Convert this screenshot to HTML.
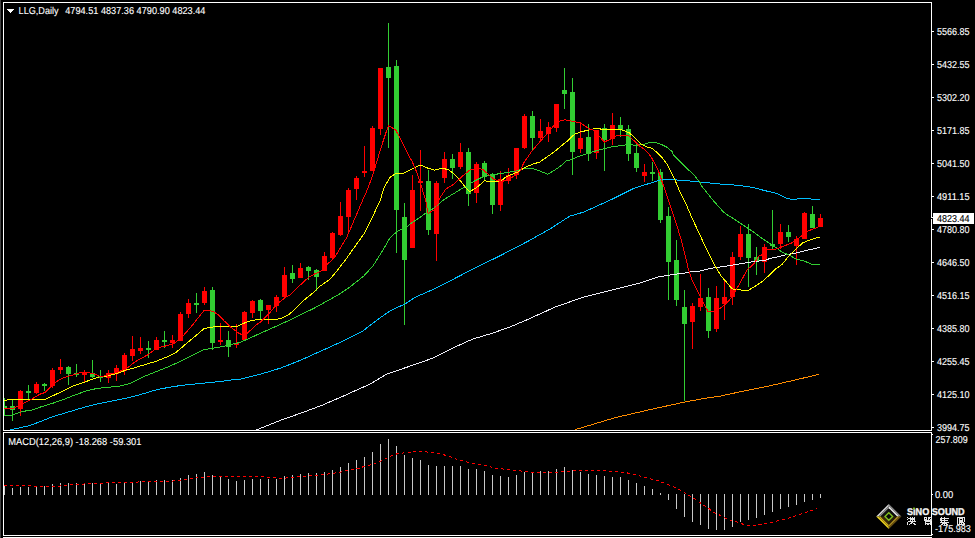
<!DOCTYPE html><html><head><meta charset="utf-8"><style>
html,body{margin:0;padding:0;background:#000;}
body{width:975px;height:538px;overflow:hidden;}
svg{display:block;}
text{font-family:"Liberation Sans",sans-serif;text-rendering:geometricPrecision;}
</style></head><body>
<svg width="975" height="538" viewBox="0 0 975 538">
<defs><clipPath id="cm"><rect x="4" y="3" width="927" height="427"/></clipPath><clipPath id="cd"><rect x="4" y="433" width="927" height="102"/></clipPath></defs>
<rect x="0" y="0" width="975" height="538" fill="#000"/>
<rect x="0" y="0" width="1" height="538" fill="#404040"/>
<g clip-path="url(#cm)">
<g shape-rendering="crispEdges"><rect x="4" y="398" width="1" height="18" fill="#32cd32"/><rect x="2" y="406" width="5" height="2" fill="#32cd32"/><rect x="12" y="400" width="1" height="21" fill="#32cd32"/><rect x="10" y="406" width="5" height="4" fill="#32cd32"/><rect x="20" y="390" width="1" height="26" fill="#ff0000"/><rect x="18" y="391" width="5" height="18" fill="#ff0000"/><rect x="28" y="385" width="1" height="15" fill="#32cd32"/><rect x="26" y="391" width="5" height="2" fill="#32cd32"/><rect x="36" y="382" width="1" height="12" fill="#ff0000"/><rect x="34" y="384" width="5" height="9" fill="#ff0000"/><rect x="44" y="383" width="1" height="8" fill="#32cd32"/><rect x="42" y="384" width="5" height="2" fill="#32cd32"/><rect x="52" y="368" width="1" height="20" fill="#ff0000"/><rect x="50" y="370" width="5" height="16" fill="#ff0000"/><rect x="60" y="359" width="1" height="15" fill="#ff0000"/><rect x="58" y="367" width="5" height="3" fill="#ff0000"/><rect x="68" y="366" width="1" height="19" fill="#32cd32"/><rect x="66" y="367" width="5" height="7" fill="#32cd32"/><rect x="76" y="364" width="1" height="13" fill="#32cd32"/><rect x="74" y="373" width="5" height="2" fill="#32cd32"/><rect x="84" y="370" width="1" height="12" fill="#ff0000"/><rect x="82" y="373" width="5" height="2" fill="#ff0000"/><rect x="92" y="360" width="1" height="18" fill="#32cd32"/><rect x="90" y="373" width="5" height="4" fill="#32cd32"/><rect x="100" y="370" width="1" height="12" fill="#32cd32"/><rect x="98" y="376" width="5" height="2" fill="#32cd32"/><rect x="108" y="370" width="1" height="13" fill="#ff0000"/><rect x="106" y="373" width="5" height="5" fill="#ff0000"/><rect x="116" y="365" width="1" height="16" fill="#ff0000"/><rect x="114" y="368" width="5" height="6" fill="#ff0000"/><rect x="124" y="353" width="1" height="22" fill="#ff0000"/><rect x="122" y="355" width="5" height="16" fill="#ff0000"/><rect x="132" y="336" width="1" height="25" fill="#ff0000"/><rect x="130" y="349" width="5" height="7" fill="#ff0000"/><rect x="140" y="337" width="1" height="17" fill="#ff0000"/><rect x="138" y="348" width="5" height="3" fill="#ff0000"/><rect x="148" y="341" width="1" height="17" fill="#32cd32"/><rect x="146" y="348" width="5" height="2" fill="#32cd32"/><rect x="156" y="337" width="1" height="13" fill="#ff0000"/><rect x="154" y="340" width="5" height="10" fill="#ff0000"/><rect x="164" y="331" width="1" height="17" fill="#32cd32"/><rect x="162" y="340" width="5" height="2" fill="#32cd32"/><rect x="172" y="335" width="1" height="13" fill="#ff0000"/><rect x="170" y="340" width="5" height="3" fill="#ff0000"/><rect x="180" y="312" width="1" height="29" fill="#ff0000"/><rect x="178" y="314" width="5" height="27" fill="#ff0000"/><rect x="188" y="299" width="1" height="19" fill="#ff0000"/><rect x="186" y="303" width="5" height="11" fill="#ff0000"/><rect x="196" y="293" width="1" height="20" fill="#32cd32"/><rect x="194" y="303" width="5" height="2" fill="#32cd32"/><rect x="204" y="287" width="1" height="18" fill="#ff0000"/><rect x="202" y="291" width="5" height="12" fill="#ff0000"/><rect x="212" y="287" width="1" height="63" fill="#32cd32"/><rect x="210" y="290" width="5" height="53" fill="#32cd32"/><rect x="220" y="323" width="1" height="22" fill="#ff0000"/><rect x="218" y="340" width="5" height="2" fill="#ff0000"/><rect x="228" y="331" width="1" height="26" fill="#32cd32"/><rect x="226" y="340" width="5" height="7" fill="#32cd32"/><rect x="236" y="324" width="1" height="24" fill="#ff0000"/><rect x="234" y="343" width="5" height="2" fill="#ff0000"/><rect x="244" y="311" width="1" height="29" fill="#ff0000"/><rect x="242" y="312" width="5" height="28" fill="#ff0000"/><rect x="252" y="300" width="1" height="18" fill="#ff0000"/><rect x="250" y="301" width="5" height="12" fill="#ff0000"/><rect x="260" y="299" width="1" height="21" fill="#32cd32"/><rect x="258" y="300" width="5" height="11" fill="#32cd32"/><rect x="268" y="305" width="1" height="19" fill="#ff0000"/><rect x="266" y="305" width="5" height="5" fill="#ff0000"/><rect x="276" y="295" width="1" height="17" fill="#ff0000"/><rect x="274" y="297" width="5" height="9" fill="#ff0000"/><rect x="284" y="267" width="1" height="30" fill="#ff0000"/><rect x="282" y="275" width="5" height="22" fill="#ff0000"/><rect x="292" y="265" width="1" height="18" fill="#32cd32"/><rect x="290" y="273" width="5" height="6" fill="#32cd32"/><rect x="300" y="263" width="1" height="15" fill="#ff0000"/><rect x="298" y="268" width="5" height="10" fill="#ff0000"/><rect x="308" y="266" width="1" height="14" fill="#32cd32"/><rect x="306" y="267" width="5" height="4" fill="#32cd32"/><rect x="316" y="269" width="1" height="22" fill="#32cd32"/><rect x="314" y="270" width="5" height="7" fill="#32cd32"/><rect x="324" y="252" width="1" height="19" fill="#ff0000"/><rect x="322" y="256" width="5" height="15" fill="#ff0000"/><rect x="332" y="232" width="1" height="28" fill="#ff0000"/><rect x="330" y="233" width="5" height="25" fill="#ff0000"/><rect x="340" y="202" width="1" height="34" fill="#ff0000"/><rect x="338" y="216" width="5" height="19" fill="#ff0000"/><rect x="348" y="188" width="1" height="44" fill="#ff0000"/><rect x="346" y="190" width="5" height="27" fill="#ff0000"/><rect x="356" y="176" width="1" height="24" fill="#ff0000"/><rect x="354" y="178" width="5" height="11" fill="#ff0000"/><rect x="364" y="146" width="1" height="31" fill="#ff0000"/><rect x="362" y="171" width="5" height="2" fill="#ff0000"/><rect x="372" y="126" width="1" height="45" fill="#ff0000"/><rect x="370" y="128" width="5" height="43" fill="#ff0000"/><rect x="380" y="68" width="1" height="67" fill="#ff0000"/><rect x="378" y="68" width="5" height="61" fill="#ff0000"/><rect x="388" y="23" width="1" height="125" fill="#32cd32"/><rect x="386" y="67" width="5" height="11" fill="#32cd32"/><rect x="396" y="60" width="1" height="193" fill="#32cd32"/><rect x="394" y="66" width="5" height="144" fill="#32cd32"/><rect x="404" y="203" width="1" height="122" fill="#32cd32"/><rect x="402" y="217" width="5" height="43" fill="#32cd32"/><rect x="412" y="175" width="1" height="73" fill="#ff0000"/><rect x="410" y="190" width="5" height="58" fill="#ff0000"/><rect x="420" y="150" width="1" height="61" fill="#ff0000"/><rect x="418" y="181" width="5" height="2" fill="#ff0000"/><rect x="428" y="170" width="1" height="65" fill="#32cd32"/><rect x="426" y="181" width="5" height="49" fill="#32cd32"/><rect x="436" y="181" width="1" height="80" fill="#ff0000"/><rect x="434" y="183" width="5" height="51" fill="#ff0000"/><rect x="444" y="152" width="1" height="31" fill="#ff0000"/><rect x="442" y="159" width="5" height="19" fill="#ff0000"/><rect x="452" y="154" width="1" height="25" fill="#32cd32"/><rect x="450" y="159" width="5" height="9" fill="#32cd32"/><rect x="460" y="143" width="1" height="26" fill="#ff0000"/><rect x="458" y="152" width="5" height="15" fill="#ff0000"/><rect x="468" y="148" width="1" height="58" fill="#32cd32"/><rect x="466" y="152" width="5" height="42" fill="#32cd32"/><rect x="476" y="162" width="1" height="41" fill="#ff0000"/><rect x="474" y="164" width="5" height="29" fill="#ff0000"/><rect x="484" y="161" width="1" height="20" fill="#32cd32"/><rect x="482" y="163" width="5" height="14" fill="#32cd32"/><rect x="492" y="173" width="1" height="41" fill="#32cd32"/><rect x="490" y="174" width="5" height="31" fill="#32cd32"/><rect x="500" y="171" width="1" height="40" fill="#ff0000"/><rect x="498" y="179" width="5" height="26" fill="#ff0000"/><rect x="508" y="168" width="1" height="16" fill="#ff0000"/><rect x="506" y="175" width="5" height="6" fill="#ff0000"/><rect x="516" y="148" width="1" height="31" fill="#ff0000"/><rect x="514" y="148" width="5" height="27" fill="#ff0000"/><rect x="524" y="114" width="1" height="35" fill="#ff0000"/><rect x="522" y="116" width="5" height="32" fill="#ff0000"/><rect x="532" y="111" width="1" height="40" fill="#32cd32"/><rect x="530" y="116" width="5" height="22" fill="#32cd32"/><rect x="540" y="119" width="1" height="23" fill="#ff0000"/><rect x="538" y="131" width="5" height="7" fill="#ff0000"/><rect x="548" y="122" width="1" height="20" fill="#ff0000"/><rect x="546" y="127" width="5" height="7" fill="#ff0000"/><rect x="556" y="104" width="1" height="28" fill="#ff0000"/><rect x="554" y="104" width="5" height="24" fill="#ff0000"/><rect x="564" y="68" width="1" height="41" fill="#32cd32"/><rect x="562" y="90" width="5" height="4" fill="#32cd32"/><rect x="572" y="78" width="1" height="97" fill="#32cd32"/><rect x="570" y="92" width="5" height="60" fill="#32cd32"/><rect x="580" y="122" width="1" height="31" fill="#ff0000"/><rect x="578" y="138" width="5" height="11" fill="#ff0000"/><rect x="588" y="124" width="1" height="37" fill="#32cd32"/><rect x="586" y="137" width="5" height="17" fill="#32cd32"/><rect x="596" y="130" width="1" height="29" fill="#ff0000"/><rect x="594" y="130" width="5" height="23" fill="#ff0000"/><rect x="604" y="124" width="1" height="47" fill="#32cd32"/><rect x="602" y="128" width="5" height="12" fill="#32cd32"/><rect x="612" y="113" width="1" height="32" fill="#ff0000"/><rect x="610" y="125" width="5" height="14" fill="#ff0000"/><rect x="620" y="117" width="1" height="20" fill="#32cd32"/><rect x="618" y="125" width="5" height="5" fill="#32cd32"/><rect x="628" y="125" width="1" height="36" fill="#32cd32"/><rect x="626" y="129" width="5" height="25" fill="#32cd32"/><rect x="636" y="142" width="1" height="30" fill="#32cd32"/><rect x="634" y="153" width="5" height="15" fill="#32cd32"/><rect x="644" y="164" width="1" height="18" fill="#ff0000"/><rect x="642" y="172" width="5" height="4" fill="#ff0000"/><rect x="652" y="162" width="1" height="19" fill="#32cd32"/><rect x="650" y="172" width="5" height="2" fill="#32cd32"/><rect x="660" y="169" width="1" height="54" fill="#32cd32"/><rect x="658" y="172" width="5" height="48" fill="#32cd32"/><rect x="668" y="207" width="1" height="93" fill="#32cd32"/><rect x="666" y="216" width="5" height="46" fill="#32cd32"/><rect x="676" y="240" width="1" height="66" fill="#32cd32"/><rect x="674" y="260" width="5" height="40" fill="#32cd32"/><rect x="684" y="290" width="1" height="111" fill="#32cd32"/><rect x="682" y="307" width="5" height="17" fill="#32cd32"/><rect x="692" y="303" width="1" height="46" fill="#ff0000"/><rect x="690" y="306" width="5" height="16" fill="#ff0000"/><rect x="700" y="274" width="1" height="37" fill="#ff0000"/><rect x="698" y="298" width="5" height="9" fill="#ff0000"/><rect x="708" y="288" width="1" height="50" fill="#32cd32"/><rect x="706" y="297" width="5" height="34" fill="#32cd32"/><rect x="716" y="286" width="1" height="46" fill="#ff0000"/><rect x="714" y="298" width="5" height="31" fill="#ff0000"/><rect x="724" y="281" width="1" height="39" fill="#ff0000"/><rect x="722" y="297" width="5" height="7" fill="#ff0000"/><rect x="732" y="252" width="1" height="53" fill="#ff0000"/><rect x="730" y="257" width="5" height="40" fill="#ff0000"/><rect x="740" y="226" width="1" height="34" fill="#ff0000"/><rect x="738" y="234" width="5" height="23" fill="#ff0000"/><rect x="748" y="224" width="1" height="63" fill="#32cd32"/><rect x="746" y="234" width="5" height="24" fill="#32cd32"/><rect x="756" y="247" width="1" height="28" fill="#32cd32"/><rect x="754" y="257" width="5" height="4" fill="#32cd32"/><rect x="764" y="244" width="1" height="29" fill="#ff0000"/><rect x="762" y="247" width="5" height="15" fill="#ff0000"/><rect x="772" y="210" width="1" height="39" fill="#32cd32"/><rect x="770" y="244" width="5" height="2" fill="#32cd32"/><rect x="780" y="224" width="1" height="25" fill="#ff0000"/><rect x="778" y="232" width="5" height="12" fill="#ff0000"/><rect x="788" y="225" width="1" height="17" fill="#32cd32"/><rect x="786" y="232" width="5" height="5" fill="#32cd32"/><rect x="796" y="236" width="1" height="29" fill="#ff0000"/><rect x="794" y="239" width="5" height="7" fill="#ff0000"/><rect x="804" y="212" width="1" height="27" fill="#ff0000"/><rect x="802" y="213" width="5" height="26" fill="#ff0000"/><rect x="812" y="206" width="1" height="22" fill="#32cd32"/><rect x="810" y="214" width="5" height="14" fill="#32cd32"/><rect x="820" y="214" width="1" height="13" fill="#ff0000"/><rect x="818" y="218" width="5" height="9" fill="#ff0000"/></g>
<polyline points="574,431 576.6,429.2 587.7,425.9 615.4,417.6 643.1,411.2 671,405 686,401.8 705.3,398.3 720,396.2 740,391.8 767.7,386.3 795.4,379.9 818.9,374.4" fill="none" stroke="#ff8c00" stroke-width="1" shape-rendering="crispEdges"/>
<polyline points="255,431 256.4,430 280.9,420.1 301.3,413 321.7,405.4 342.2,396.6 362.6,387.4 370,384.2 386.3,374.4 410.9,365.8 431.3,358.7 451.7,348.5 472.2,339.3 492.6,333.1 510,327 527.9,319.4 555.7,306.8 583.6,297.1 611.5,290.1 639.4,283.1 660,276.2 666.9,275.9 672.9,274.3 681.8,273.6 691.5,271.7 699.6,271.1 705.5,269.5 715,267.6 724.4,266.4 733.9,264.8 743.4,263.2 756,261.3 765,260.3 770.6,258.2 776,257.3 785.5,254.8 795,253.2 804.4,250.8 813.9,248.8 819.9,247.2" fill="none" stroke="#eeeef8" stroke-width="1" shape-rendering="crispEdges"/>
<polyline points="8,431 9.7,430 30,425.5 41.1,421.3 52.3,416.8 63.4,413.5 74.6,410.1 85.7,406.8 96.9,404 108,401.8 119.2,399.5 130,397.4 143,393.8 156,389.9 169.1,387.3 182.1,385.3 195.1,384 208.1,382.7 221.1,381.4 234.2,379.5 240,379.3 260.4,374.2 280.9,368 301.3,359.9 321.7,350.7 342.2,341.5 362.6,331.2 370,325.4 380.2,317.8 390.4,310.7 404.7,304.1 415,297.4 431.3,290.2 451.7,280 478,266.5 500,255.8 527.9,241.3 550.2,228.8 569.7,216.2 583.6,212.1 611.5,199.5 633.8,188.4 660,180 667.9,179.6 681.9,180.2 695.8,181.6 709.8,183 723.7,184.4 737.7,185.2 751.6,187.2 765.6,190.8 776,193.2 782.3,196.3 787.8,198.7 793.4,199.5 799.7,198.7 809.2,198.7 813.9,199.5 819.9,199.5" fill="none" stroke="#00bfff" stroke-width="1" shape-rendering="crispEdges"/>
<polyline points="4,415 12,415 24.2,411.1 30,410.7 41.1,406.8 52.3,403.4 63.4,399.5 74.6,395.1 85.7,391.2 96.9,388.4 108,387.3 119.2,386.2 130,383.4 143,376.9 156,371.7 169.1,366.5 182.1,360.6 195.1,354.1 204.2,349.5 210.7,348.6 221.1,346.9 234.2,343.7 240,342.5 260.4,333.3 280.9,324.1 290,320 314.1,308.2 337.9,295 347.2,288.9 354.6,283.3 363.9,275.9 373.2,265.6 382.5,250.8 390,237.8 397.4,231.2 406.7,227.5 409.3,224.4 416,220.1 422.7,215.4 425.3,213.4 434.6,207.8 443.9,199.5 453.2,193.9 462.4,188.3 471.7,182.7 476,180.2 482.1,177.2 488.1,175.4 500.2,173.6 512.3,171.7 516,171 523.4,168.3 532.3,168.3 539.8,171 547.9,174.2 554.6,170.2 562,165 566.5,160.6 570,160 578.4,156.4 588.8,153.1 599.2,149.9 609.7,147.3 620.1,145.6 628,144.7 636.3,145.2 642.8,144.7 648,143 654.5,142.3 661,144.3 666.3,146.9 672,151.4 673.5,155.1 687.4,169 693.5,174.2 700,182.5 701.4,185.8 712.5,199.7 723.7,212.2 726,214 734.9,219.5 743.8,225.5 752.7,231.4 761.6,238.1 770.6,244.1 776.5,247.8 782.3,252.4 788.6,254.8 796.5,259.2 804.4,261.1 811.5,264.2 819.9,264.2" fill="none" stroke="#32cd32" stroke-width="1" shape-rendering="crispEdges"/>
<polyline points="4,401 8,399.5 44.7,399.5 56,394.3 63.9,390.5 73.1,385.9 84.3,382.2 91.7,379.4 100,376.6 107,376 118.3,373 127.2,369.6 130,369.1 143,365.2 156,361.3 169.1,356 175.6,352.8 184.7,345 192.5,338.5 201.6,330.7 204,328.5 211.7,327.1 215.9,326.7 237.6,326.3 242.6,323.8 248.5,321.3 257.7,319.5 276.9,319.2 283.2,317.7 290,313.7 304.2,300 313.4,292.6 318.5,287.2 323.5,283.8 330,279.2 336,272.1 345.3,260.1 354.6,247 363.9,234 373.2,215.4 380.4,200 383.7,188.6 389.6,177.7 396.3,173.2 403.8,173.2 412,168.9 416,167 420.6,165.1 427.1,167.9 434.6,170.1 442,168.2 448.5,169.7 453.2,173.4 460.6,180.9 466.2,188.3 469.9,191.6 476,188 484.5,180.8 489.3,181.6 500.2,181.6 506.3,176.6 512.3,174.2 518.4,171.7 525,167.5 532.3,164.3 539.8,162 547.2,156.8 554.6,151.6 560.6,146.4 568,140.5 574.5,134.3 581,131.7 587.5,130.4 594,128.7 599.2,128.7 604.4,130 611,129.5 620.1,129.5 624,130.4 629.8,133.2 636.3,139.1 641.5,144.3 648,147.3 651.9,148.2 657.2,152.7 662.4,157.9 667.6,165.1 672,174.2 675,180 680,192 685.9,203.7 691.7,217.3 697.6,230 703.5,242.7 709.3,254.4 715.2,266.1 721,275.9 726.9,282.7 731.8,288.6 736.7,289.8 748.3,290.4 756,285.7 762.7,281.2 769.4,275.1 776,268.7 782.3,264.2 788.6,256.3 796.5,248.5 802.8,242.9 809.2,240.2 815.5,238.2 819.9,237.1" fill="none" stroke="#ffff00" stroke-width="1" shape-rendering="crispEdges"/>
<polyline points="4,408.4 14,408 22,404 30,400 39.7,394.3 45.3,392.4 55.5,382.2 62,378.5 68.5,376.1 74,374.7 80.6,372.4 84.3,372 88,372.4 95.4,374.3 100.5,376.5 106,375.7 118.3,371.8 126,369 135,361.8 148.4,354.5 154,350 160,347.3 164.4,346.3 174,343.6 182.5,336.6 192.2,325.4 204,310.5 209,310.5 214.5,312.2 218.4,315 224.2,320.9 230,326.7 238.4,333 241.8,334.6 246.8,333.8 255,325.9 261,321.6 269,313.7 276.9,304.2 284.8,297.9 290.9,294.3 296.7,288.4 305.1,280.5 308.8,277.2 313.4,274.6 321.8,270.5 327.6,264 334.3,257.9 336,255.1 341.9,245.4 346.4,238 349.4,231.3 353.8,220.9 358.3,210.5 362.7,200 367.9,188.4 373.8,172 376.8,161.6 381.3,146.8 385.7,133.4 388.4,125.7 391.7,127.4 396,130.4 400.5,139.3 405.5,149.3 412.3,161.9 416.8,172.3 421.2,185.7 425.7,200.6 428.1,213.4 434.6,209.7 440.2,197.6 445.7,189.2 453.2,184.6 462.4,176.2 470,169.9 478.5,168.1 483.3,169.9 488.1,174.2 494.2,179.6 501.4,181.6 506.3,180.2 511.1,177.8 515.9,174.8 520.8,170.5 523.4,163.5 530.9,152.4 538.3,143.5 545.7,135.3 553.1,126.4 560.6,120.7 565,119.7 569.5,120.7 574.5,121.7 579.7,122.6 584.9,125.8 589.5,129.1 594,130.4 599.2,136.2 604.4,142.1 609.7,139.5 614.9,136.2 620.1,135.2 628.5,135.6 633.7,140.4 638.9,145.6 645.4,150.1 650.6,156 654.5,163.1 658.5,171 662.4,182.7 666.7,195.1 671.7,210.1 676.8,225.2 681.8,241.9 686,258.6 688.5,269.9 692.2,280.3 699.6,295.1 702.3,300.8 707.8,311.1 713.4,311.1 719.7,308.7 726,304 730.7,298.4 736,290.1 741.6,280.1 747.1,269.9 753.8,264 758.7,256 761.6,255 767.2,250 776,249.1 783.9,246.1 791.8,242.9 799.7,237.4 807.6,231.1 813.9,228.7 819.9,226.3" fill="none" stroke="#ff0000" stroke-width="1" shape-rendering="crispEdges"/>
</g>
<g clip-path="url(#cd)" shape-rendering="crispEdges">
<rect x="4" y="486.4" width="1" height="8.6" fill="#c8c8c8"/><rect x="12" y="487.7" width="1" height="7.3" fill="#c8c8c8"/><rect x="20" y="486.9" width="1" height="8.1" fill="#c8c8c8"/><rect x="28" y="486.9" width="1" height="8.1" fill="#c8c8c8"/><rect x="36" y="486.4" width="1" height="8.6" fill="#c8c8c8"/><rect x="44" y="486.1" width="1" height="8.9" fill="#c8c8c8"/><rect x="52" y="484" width="1" height="11" fill="#c8c8c8"/><rect x="60" y="482.8" width="1" height="12.2" fill="#c8c8c8"/><rect x="68" y="482.8" width="1" height="12.2" fill="#c8c8c8"/><rect x="76" y="482.8" width="1" height="12.2" fill="#c8c8c8"/><rect x="84" y="482.8" width="1" height="12.2" fill="#c8c8c8"/><rect x="92" y="482.8" width="1" height="12.2" fill="#c8c8c8"/><rect x="100" y="482.8" width="1" height="12.2" fill="#c8c8c8"/><rect x="108" y="482.8" width="1" height="12.2" fill="#c8c8c8"/><rect x="116" y="484" width="1" height="11" fill="#c8c8c8"/><rect x="124" y="482.3" width="1" height="12.7" fill="#c8c8c8"/><rect x="132" y="482.3" width="1" height="12.7" fill="#c8c8c8"/><rect x="140" y="481.2" width="1" height="13.8" fill="#c8c8c8"/><rect x="148" y="481.2" width="1" height="13.8" fill="#c8c8c8"/><rect x="156" y="480.2" width="1" height="14.8" fill="#c8c8c8"/><rect x="164" y="480" width="1" height="15" fill="#c8c8c8"/><rect x="172" y="480" width="1" height="15" fill="#c8c8c8"/><rect x="180" y="477.8" width="1" height="17.2" fill="#c8c8c8"/><rect x="188" y="475.1" width="1" height="19.9" fill="#c8c8c8"/><rect x="196" y="474.1" width="1" height="20.9" fill="#c8c8c8"/><rect x="204" y="472.1" width="1" height="22.9" fill="#c8c8c8"/><rect x="212" y="475.1" width="1" height="19.9" fill="#c8c8c8"/><rect x="220" y="476.7" width="1" height="18.3" fill="#c8c8c8"/><rect x="228" y="479" width="1" height="16" fill="#c8c8c8"/><rect x="236" y="480.6" width="1" height="14.4" fill="#c8c8c8"/><rect x="244" y="480" width="1" height="15" fill="#c8c8c8"/><rect x="252" y="479" width="1" height="16" fill="#c8c8c8"/><rect x="260" y="479" width="1" height="16" fill="#c8c8c8"/><rect x="268" y="479" width="1" height="16" fill="#c8c8c8"/><rect x="276" y="479" width="1" height="16" fill="#c8c8c8"/><rect x="284" y="475.9" width="1" height="19.1" fill="#c8c8c8"/><rect x="292" y="475.1" width="1" height="19.9" fill="#c8c8c8"/><rect x="300" y="474.1" width="1" height="20.9" fill="#c8c8c8"/><rect x="308" y="472.9" width="1" height="22.1" fill="#c8c8c8"/><rect x="316" y="472.9" width="1" height="22.1" fill="#c8c8c8"/><rect x="324" y="471.8" width="1" height="23.2" fill="#c8c8c8"/><rect x="332" y="470" width="1" height="25" fill="#c8c8c8"/><rect x="340" y="466.9" width="1" height="28.1" fill="#c8c8c8"/><rect x="348" y="463.1" width="1" height="31.9" fill="#c8c8c8"/><rect x="356" y="460" width="1" height="35" fill="#c8c8c8"/><rect x="364" y="457" width="1" height="38" fill="#c8c8c8"/><rect x="372" y="452.1" width="1" height="42.9" fill="#c8c8c8"/><rect x="380" y="443.9" width="1" height="51.1" fill="#c8c8c8"/><rect x="388" y="439" width="1" height="56" fill="#c8c8c8"/><rect x="396" y="445.8" width="1" height="49.2" fill="#c8c8c8"/><rect x="404" y="454.9" width="1" height="40.1" fill="#c8c8c8"/><rect x="412" y="457.8" width="1" height="37.2" fill="#c8c8c8"/><rect x="420" y="460" width="1" height="35" fill="#c8c8c8"/><rect x="428" y="465" width="1" height="30" fill="#c8c8c8"/><rect x="436" y="466" width="1" height="29" fill="#c8c8c8"/><rect x="444" y="466" width="1" height="29" fill="#c8c8c8"/><rect x="452" y="466" width="1" height="29" fill="#c8c8c8"/><rect x="460" y="466" width="1" height="29" fill="#c8c8c8"/><rect x="468" y="468.8" width="1" height="26.2" fill="#c8c8c8"/><rect x="476" y="468.8" width="1" height="26.2" fill="#c8c8c8"/><rect x="484" y="470.8" width="1" height="24.2" fill="#c8c8c8"/><rect x="492" y="475.1" width="1" height="19.9" fill="#c8c8c8"/><rect x="500" y="475.9" width="1" height="19.1" fill="#c8c8c8"/><rect x="508" y="477" width="1" height="18" fill="#c8c8c8"/><rect x="516" y="475.1" width="1" height="19.9" fill="#c8c8c8"/><rect x="524" y="471.8" width="1" height="23.2" fill="#c8c8c8"/><rect x="532" y="472.9" width="1" height="22.1" fill="#c8c8c8"/><rect x="540" y="470.8" width="1" height="24.2" fill="#c8c8c8"/><rect x="548" y="470.8" width="1" height="24.2" fill="#c8c8c8"/><rect x="556" y="468.8" width="1" height="26.2" fill="#c8c8c8"/><rect x="564" y="466.9" width="1" height="28.1" fill="#c8c8c8"/><rect x="572" y="470" width="1" height="25" fill="#c8c8c8"/><rect x="580" y="471.8" width="1" height="23.2" fill="#c8c8c8"/><rect x="588" y="473.7" width="1" height="21.3" fill="#c8c8c8"/><rect x="596" y="474.9" width="1" height="20.1" fill="#c8c8c8"/><rect x="604" y="475.9" width="1" height="19.1" fill="#c8c8c8"/><rect x="612" y="477" width="1" height="18" fill="#c8c8c8"/><rect x="620" y="477.2" width="1" height="17.8" fill="#c8c8c8"/><rect x="628" y="480" width="1" height="15" fill="#c8c8c8"/><rect x="636" y="483" width="1" height="12" fill="#c8c8c8"/><rect x="644" y="485.9" width="1" height="9.1" fill="#c8c8c8"/><rect x="652" y="489.2" width="1" height="5.8" fill="#c8c8c8"/><rect x="660" y="493" width="1" height="2" fill="#c8c8c8"/><rect x="668" y="494" width="1" height="5.7" fill="#c8c8c8"/><rect x="676" y="494" width="1" height="14.9" fill="#c8c8c8"/><rect x="684" y="494" width="1" height="22.6" fill="#c8c8c8"/><rect x="692" y="494" width="1" height="28" fill="#c8c8c8"/><rect x="700" y="494" width="1" height="30.8" fill="#c8c8c8"/><rect x="708" y="494" width="1" height="34.6" fill="#c8c8c8"/><rect x="716" y="494" width="1" height="35.8" fill="#c8c8c8"/><rect x="724" y="494" width="1" height="35.8" fill="#c8c8c8"/><rect x="732" y="494" width="1" height="33" fill="#c8c8c8"/><rect x="740" y="494" width="1" height="28" fill="#c8c8c8"/><rect x="748" y="494" width="1" height="25.9" fill="#c8c8c8"/><rect x="756" y="494" width="1" height="23.9" fill="#c8c8c8"/><rect x="764" y="494" width="1" height="20.8" fill="#c8c8c8"/><rect x="772" y="494" width="1" height="18" fill="#c8c8c8"/><rect x="780" y="494" width="1" height="15" fill="#c8c8c8"/><rect x="788" y="494" width="1" height="12.8" fill="#c8c8c8"/><rect x="796" y="494" width="1" height="11" fill="#c8c8c8"/><rect x="804" y="494" width="1" height="7.9" fill="#c8c8c8"/><rect x="812" y="494" width="1" height="5.8" fill="#c8c8c8"/><rect x="820" y="494" width="1" height="4" fill="#c8c8c8"/>
</g>
<g clip-path="url(#cd)">
<polyline points="4,485.3 36,486.1 52,486.4 68,485.6 72,484.4 84,484 92,483.5 112,482.8 130,482.3 156,481.3 172.4,481.1 180.6,480 190.5,479 197,477.8 205.2,477 213.4,476.2 262.7,476.2 270.9,477.8 284,478.3 288.9,477.4 303.7,476.7 311.9,475.4 316.2,475.4 324.4,474.6 332.6,473.4 340.8,472.1 349,470.1 357.2,468.8 365.4,466 373.6,464.2 381.8,460.6 390,456.5 396.6,454 406.5,452.4 414.7,451.6 422.9,451.6 431.1,452.4 442.6,454.4 450.8,457 460,460.3 466.6,461.9 476.4,463.9 486.3,465.5 491.2,467.2 497.7,468.5 509.2,469.6 517.4,470.5 522.4,471.3 533.8,472.4 558.5,472.4 565,471.3 574.9,470.8 578.2,470.1 600,470.6 612.7,471.3 624,472.4 629.7,473.4 635.3,474.8 641,476.3 648.1,478.4 653.7,479.5 659.4,481.2 665,483.3 672.1,486.1 677.7,489 683.4,491.8 689,495.3 696.1,499.6 700,502.7 708,508 713.3,512 720,515.3 725.3,518 732,520.7 738.7,522.4 744,524.7 753.3,525.6 761.3,524.4 768,523.3 773.3,522 780,520 785.3,519.3 792,516.7 798.7,514.9 804,512.7 810.7,510.9 816.7,508.4" fill="none" stroke="#ff0000" stroke-width="1" stroke-dasharray="3 3" shape-rendering="crispEdges"/>
</g>
<g shape-rendering="crispEdges"><rect x="3" y="2" width="929" height="1" fill="#ffffff"/><rect x="3" y="2" width="1" height="429" fill="#ffffff"/><rect x="3" y="430" width="929" height="1" fill="#ffffff"/><rect x="931" y="2" width="1" height="216" fill="#ffffff"/><rect x="931" y="219" width="1" height="212" fill="#ffffff"/><rect x="932" y="217" width="1" height="1" fill="#ffffff"/><rect x="931" y="432" width="1" height="104" fill="#ffffff"/><rect x="3" y="432" width="929" height="1" fill="#ffffff"/><rect x="3" y="432" width="1" height="104" fill="#ffffff"/><rect x="3" y="535" width="929" height="1" fill="#ffffff"/><rect x="3" y="537" width="929" height="1" fill="#ffffff"/><rect x="932" y="31" width="2" height="1" fill="#ffffff"/><rect x="932" y="64" width="2" height="1" fill="#ffffff"/><rect x="932" y="97" width="2" height="1" fill="#ffffff"/><rect x="932" y="130" width="2" height="1" fill="#ffffff"/><rect x="932" y="163" width="2" height="1" fill="#ffffff"/><rect x="932" y="196" width="2" height="1" fill="#ffffff"/><rect x="932" y="229" width="2" height="1" fill="#ffffff"/><rect x="932" y="262" width="2" height="1" fill="#ffffff"/><rect x="932" y="295" width="2" height="1" fill="#ffffff"/><rect x="932" y="328" width="2" height="1" fill="#ffffff"/><rect x="932" y="361" width="2" height="1" fill="#ffffff"/><rect x="932" y="394" width="2" height="1" fill="#ffffff"/><rect x="932" y="427" width="2" height="1" fill="#ffffff"/><rect x="932" y="434" width="1" height="1" fill="#ffffff"/><rect x="932" y="494" width="1" height="1" fill="#ffffff"/><rect x="932" y="534" width="1" height="1" fill="#ffffff"/></g>
<text x="937" y="35" font-size="10.0" fill="#fff" font-weight="normal" textLength="32.6" stroke="#fff" stroke-width="0.12" lengthAdjust="spacingAndGlyphs">5566.85</text><text x="937" y="68" font-size="10.0" fill="#fff" font-weight="normal" textLength="32.6" stroke="#fff" stroke-width="0.12" lengthAdjust="spacingAndGlyphs">5432.55</text><text x="937" y="101" font-size="10.0" fill="#fff" font-weight="normal" textLength="32.6" stroke="#fff" stroke-width="0.12" lengthAdjust="spacingAndGlyphs">5302.20</text><text x="937" y="134" font-size="10.0" fill="#fff" font-weight="normal" textLength="32.6" stroke="#fff" stroke-width="0.12" lengthAdjust="spacingAndGlyphs">5171.85</text><text x="937" y="167" font-size="10.0" fill="#fff" font-weight="normal" textLength="32.6" stroke="#fff" stroke-width="0.12" lengthAdjust="spacingAndGlyphs">5041.50</text><text x="937" y="200" font-size="10.0" fill="#fff" font-weight="normal" textLength="32.6" stroke="#fff" stroke-width="0.12" lengthAdjust="spacingAndGlyphs">4911.15</text><text x="937" y="233" font-size="10.0" fill="#fff" font-weight="normal" textLength="32.6" stroke="#fff" stroke-width="0.12" lengthAdjust="spacingAndGlyphs">4780.80</text><text x="937" y="266" font-size="10.0" fill="#fff" font-weight="normal" textLength="32.6" stroke="#fff" stroke-width="0.12" lengthAdjust="spacingAndGlyphs">4646.50</text><text x="937" y="299" font-size="10.0" fill="#fff" font-weight="normal" textLength="32.6" stroke="#fff" stroke-width="0.12" lengthAdjust="spacingAndGlyphs">4516.15</text><text x="937" y="332" font-size="10.0" fill="#fff" font-weight="normal" textLength="32.6" stroke="#fff" stroke-width="0.12" lengthAdjust="spacingAndGlyphs">4385.80</text><text x="937" y="365" font-size="10.0" fill="#fff" font-weight="normal" textLength="32.6" stroke="#fff" stroke-width="0.12" lengthAdjust="spacingAndGlyphs">4255.45</text><text x="937" y="398" font-size="10.0" fill="#fff" font-weight="normal" textLength="32.6" stroke="#fff" stroke-width="0.12" lengthAdjust="spacingAndGlyphs">4125.10</text><text x="937" y="431" font-size="10.0" fill="#fff" font-weight="normal" textLength="32.6" stroke="#fff" stroke-width="0.12" lengthAdjust="spacingAndGlyphs">3994.75</text><rect x="933" y="213" width="41" height="11" fill="#fff"/><text x="937" y="222" font-size="10.0" fill="#000" font-weight="normal" textLength="32.6" stroke="#000" stroke-width="0.12" lengthAdjust="spacingAndGlyphs">4823.44</text><g fill="#fff" shape-rendering="crispEdges"><rect x="7" y="9" width="7" height="1"/><rect x="8" y="10" width="5" height="1"/><rect x="9" y="11" width="3" height="1"/><rect x="10" y="12" width="1" height="1"/></g><text x="18.6" y="14" font-size="10.0" fill="#fff" font-weight="normal" textLength="40" stroke="#fff" stroke-width="0.12" lengthAdjust="spacingAndGlyphs">LLG,Daily</text><text x="65.2" y="14" font-size="10.0" fill="#fff" font-weight="normal" textLength="140.3" stroke="#fff" stroke-width="0.12" lengthAdjust="spacingAndGlyphs">4794.51 4837.36 4790.90 4823.44</text><text x="8.2" y="445" font-size="10.0" fill="#fff" font-weight="normal" textLength="133.3" stroke="#fff" stroke-width="0.12" lengthAdjust="spacingAndGlyphs">MACD(12,26,9) -18.268 -59.301</text><text x="935.5" y="443" font-size="10.0" fill="#fff" font-weight="normal" textLength="32.2" stroke="#fff" stroke-width="0.12" lengthAdjust="spacingAndGlyphs">257.809</text><text x="934.9" y="498" font-size="10.0" fill="#fff" font-weight="normal" textLength="18.3" stroke="#fff" stroke-width="0.12" lengthAdjust="spacingAndGlyphs">0.00</text><text x="935" y="532" font-size="10.0" fill="#fff" font-weight="normal" textLength="35.9" stroke="#fff" stroke-width="0.12" lengthAdjust="spacingAndGlyphs">-175.983</text>
<path d="M876.20,516.50 L888.80,503.90 L888.80,506.10 L878.40,516.50 Z" fill="#d8d8d8"/><path d="M878.40,516.50 L888.80,506.10 L888.80,508.30 L880.60,516.50 Z" fill="#8c8c8c"/><path d="M901.40,516.50 L888.80,503.90 L888.80,506.10 L899.20,516.50 Z" fill="#8a8a8a"/><path d="M899.20,516.50 L888.80,506.10 L888.80,508.30 L897.00,516.50 Z" fill="#f0f0f0"/><path d="M876.20,516.50 L888.80,529.10 L888.80,526.90 L878.40,516.50 Z" fill="#f0d820"/><path d="M878.40,516.50 L888.80,526.90 L888.80,524.70 L880.60,516.50 Z" fill="#c8a818"/><path d="M901.40,516.50 L888.80,529.10 L888.80,526.90 L899.20,516.50 Z" fill="#6a5010"/><path d="M899.20,516.50 L888.80,526.90 L888.80,524.70 L897.00,516.50 Z" fill="#b09020"/><path d="M880.60,516.50 L888.80,508.30 L888.80,516.50 L888.80,516.50 Z" fill="#101010"/><path d="M897.00,516.50 L888.80,508.30 L888.80,516.50 L888.80,516.50 Z" fill="#101010"/><path d="M880.60,516.50 L888.80,524.70 L888.80,516.50 L888.80,516.50 Z" fill="#3a2a08"/><path d="M897.00,516.50 L888.80,524.70 L888.80,516.50 L888.80,516.50 Z" fill="#2a1e06"/><path d="M885.0,516.5 L888.8,512.7 L892.5999999999999,516.5 L888.8,520.3 Z" fill="#080808" stroke="#80c020" stroke-width="1.4"/><text x="907" y="515" font-size="9.8" fill="#f4f4f4" font-weight="bold" textLength="57.7" stroke="#f4f4f4" stroke-width="0.35" lengthAdjust="spacingAndGlyphs">SINO SOUND</text><rect x="912.6" y="507" width="3" height="2.2" fill="#000"/><rect x="913" y="507.6" width="2" height="1.6" fill="#80c020"/><g fill="#e4e4e4" shape-rendering="crispEdges"><rect x="907" y="517" width="1" height="1"/><rect x="910" y="517" width="1" height="1"/><rect x="912" y="517" width="1" height="1"/><rect x="914" y="517" width="1" height="1"/><rect x="908" y="518" width="1" height="1"/><rect x="909" y="518" width="1" height="1"/><rect x="910" y="518" width="1" height="1"/><rect x="911" y="518" width="1" height="1"/><rect x="912" y="518" width="1" height="1"/><rect x="913" y="518" width="1" height="1"/><rect x="914" y="518" width="1" height="1"/><rect x="907" y="519" width="1" height="1"/><rect x="910" y="519" width="1" height="1"/><rect x="911" y="519" width="1" height="1"/><rect x="912" y="519" width="1" height="1"/><rect x="913" y="519" width="1" height="1"/><rect x="914" y="519" width="1" height="1"/><rect x="910" y="520" width="1" height="1"/><rect x="912" y="520" width="1" height="1"/><rect x="914" y="520" width="1" height="1"/><rect x="908" y="521" width="1" height="1"/><rect x="909" y="521" width="1" height="1"/><rect x="910" y="521" width="1" height="1"/><rect x="911" y="521" width="1" height="1"/><rect x="912" y="521" width="1" height="1"/><rect x="913" y="521" width="1" height="1"/><rect x="914" y="521" width="1" height="1"/><rect x="915" y="521" width="1" height="1"/><rect x="907" y="522" width="1" height="1"/><rect x="911" y="522" width="1" height="1"/><rect x="912" y="522" width="1" height="1"/><rect x="907" y="523" width="1" height="1"/><rect x="910" y="523" width="1" height="1"/><rect x="911" y="523" width="1" height="1"/><rect x="913" y="523" width="1" height="1"/><rect x="914" y="523" width="1" height="1"/><rect x="907" y="524" width="1" height="1"/><rect x="909" y="524" width="1" height="1"/><rect x="914" y="524" width="1" height="1"/><rect x="915" y="524" width="1" height="1"/><rect x="924" y="517" width="1" height="1"/><rect x="925" y="517" width="1" height="1"/><rect x="926" y="517" width="1" height="1"/><rect x="928" y="517" width="1" height="1"/><rect x="929" y="517" width="1" height="1"/><rect x="930" y="517" width="1" height="1"/><rect x="931" y="517" width="1" height="1"/><rect x="924" y="518" width="1" height="1"/><rect x="926" y="518" width="1" height="1"/><rect x="928" y="518" width="1" height="1"/><rect x="929" y="518" width="1" height="1"/><rect x="931" y="518" width="1" height="1"/><rect x="924" y="519" width="1" height="1"/><rect x="925" y="519" width="1" height="1"/><rect x="926" y="519" width="1" height="1"/><rect x="928" y="519" width="1" height="1"/><rect x="930" y="519" width="1" height="1"/><rect x="931" y="519" width="1" height="1"/><rect x="924" y="520" width="1" height="1"/><rect x="925" y="520" width="1" height="1"/><rect x="926" y="520" width="1" height="1"/><rect x="927" y="520" width="1" height="1"/><rect x="928" y="520" width="1" height="1"/><rect x="929" y="520" width="1" height="1"/><rect x="930" y="520" width="1" height="1"/><rect x="931" y="520" width="1" height="1"/><rect x="925" y="521" width="1" height="1"/><rect x="926" y="521" width="1" height="1"/><rect x="927" y="521" width="1" height="1"/><rect x="928" y="521" width="1" height="1"/><rect x="929" y="521" width="1" height="1"/><rect x="930" y="521" width="1" height="1"/><rect x="925" y="522" width="1" height="1"/><rect x="930" y="522" width="1" height="1"/><rect x="925" y="523" width="1" height="1"/><rect x="926" y="523" width="1" height="1"/><rect x="927" y="523" width="1" height="1"/><rect x="928" y="523" width="1" height="1"/><rect x="929" y="523" width="1" height="1"/><rect x="930" y="523" width="1" height="1"/><rect x="925" y="524" width="1" height="1"/><rect x="927" y="524" width="1" height="1"/><rect x="928" y="524" width="1" height="1"/><rect x="930" y="524" width="1" height="1"/><rect x="941" y="517" width="1" height="1"/><rect x="944" y="517" width="1" height="1"/><rect x="940" y="518" width="1" height="1"/><rect x="941" y="518" width="1" height="1"/><rect x="942" y="518" width="1" height="1"/><rect x="943" y="518" width="1" height="1"/><rect x="944" y="518" width="1" height="1"/><rect x="945" y="518" width="1" height="1"/><rect x="946" y="518" width="1" height="1"/><rect x="947" y="518" width="1" height="1"/><rect x="948" y="518" width="1" height="1"/><rect x="940" y="519" width="1" height="1"/><rect x="941" y="519" width="1" height="1"/><rect x="944" y="519" width="1" height="1"/><rect x="940" y="520" width="1" height="1"/><rect x="941" y="520" width="1" height="1"/><rect x="942" y="520" width="1" height="1"/><rect x="943" y="520" width="1" height="1"/><rect x="944" y="520" width="1" height="1"/><rect x="945" y="520" width="1" height="1"/><rect x="946" y="520" width="1" height="1"/><rect x="947" y="520" width="1" height="1"/><rect x="941" y="521" width="1" height="1"/><rect x="944" y="521" width="1" height="1"/><rect x="940" y="522" width="1" height="1"/><rect x="941" y="522" width="1" height="1"/><rect x="942" y="522" width="1" height="1"/><rect x="943" y="522" width="1" height="1"/><rect x="944" y="522" width="1" height="1"/><rect x="945" y="522" width="1" height="1"/><rect x="946" y="522" width="1" height="1"/><rect x="947" y="522" width="1" height="1"/><rect x="948" y="522" width="1" height="1"/><rect x="942" y="523" width="1" height="1"/><rect x="943" y="523" width="1" height="1"/><rect x="944" y="523" width="1" height="1"/><rect x="945" y="523" width="1" height="1"/><rect x="946" y="523" width="1" height="1"/><rect x="941" y="524" width="1" height="1"/><rect x="942" y="524" width="1" height="1"/><rect x="944" y="524" width="1" height="1"/><rect x="946" y="524" width="1" height="1"/><rect x="947" y="524" width="1" height="1"/><rect x="957" y="517" width="1" height="1"/><rect x="958" y="517" width="1" height="1"/><rect x="959" y="517" width="1" height="1"/><rect x="960" y="517" width="1" height="1"/><rect x="961" y="517" width="1" height="1"/><rect x="962" y="517" width="1" height="1"/><rect x="963" y="517" width="1" height="1"/><rect x="964" y="517" width="1" height="1"/><rect x="957" y="518" width="1" height="1"/><rect x="959" y="518" width="1" height="1"/><rect x="960" y="518" width="1" height="1"/><rect x="961" y="518" width="1" height="1"/><rect x="962" y="518" width="1" height="1"/><rect x="964" y="518" width="1" height="1"/><rect x="957" y="519" width="1" height="1"/><rect x="959" y="519" width="1" height="1"/><rect x="962" y="519" width="1" height="1"/><rect x="964" y="519" width="1" height="1"/><rect x="957" y="520" width="1" height="1"/><rect x="959" y="520" width="1" height="1"/><rect x="960" y="520" width="1" height="1"/><rect x="961" y="520" width="1" height="1"/><rect x="962" y="520" width="1" height="1"/><rect x="964" y="520" width="1" height="1"/><rect x="957" y="521" width="1" height="1"/><rect x="959" y="521" width="1" height="1"/><rect x="960" y="521" width="1" height="1"/><rect x="961" y="521" width="1" height="1"/><rect x="962" y="521" width="1" height="1"/><rect x="964" y="521" width="1" height="1"/><rect x="957" y="522" width="1" height="1"/><rect x="959" y="522" width="1" height="1"/><rect x="960" y="522" width="1" height="1"/><rect x="961" y="522" width="1" height="1"/><rect x="962" y="522" width="1" height="1"/><rect x="963" y="522" width="1" height="1"/><rect x="957" y="523" width="1" height="1"/><rect x="959" y="523" width="1" height="1"/><rect x="961" y="523" width="1" height="1"/><rect x="963" y="523" width="1" height="1"/><rect x="964" y="523" width="1" height="1"/><rect x="957" y="524" width="1" height="1"/><rect x="958" y="524" width="1" height="1"/><rect x="959" y="524" width="1" height="1"/><rect x="960" y="524" width="1" height="1"/><rect x="961" y="524" width="1" height="1"/><rect x="962" y="524" width="1" height="1"/><rect x="963" y="524" width="1" height="1"/><rect x="964" y="524" width="1" height="1"/></g>
</svg></body></html>
